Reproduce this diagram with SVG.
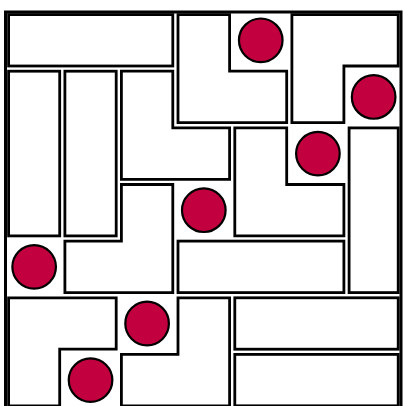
<svg xmlns="http://www.w3.org/2000/svg" width="403" height="406" viewBox="0 0 403 406">
<style>
.p{fill:#fff;stroke:#000;stroke-width:2.8;stroke-linejoin:miter}
.c{fill:#c2003f;stroke:#000;stroke-width:2.2}
.f{fill:none;stroke:#000;stroke-width:3}
</style>
<rect width="403" height="406" fill="#fff"/>
<rect class="f" x="5.5" y="12" width="395.5" height="400"/>
<g id="pieces">
<g id="p1"><rect class="p" x="8.6" y="14.6" width="164.2" height="51.4"/></g>
<g id="p2"><polygon class="p" points="178,14.6 229.6,14.6 229.6,71.2 286.7,71.2 286.7,122.7 178,122.7"/></g>
<g id="p3"><polygon class="p" points="291.9,14.6 398.2,14.6 398.2,66 343.9,66 343.9,122.7 291.9,122.7"/></g>
<g id="p4"><rect class="p" x="8.6" y="71.2" width="51.1" height="164.7"/></g>
<g id="p5"><rect class="p" x="64.9" y="71.2" width="51.3" height="164.7"/></g>
<g id="p6"><polygon class="p" points="121.4,71.2 172.8,71.2 172.8,127.9 229.6,127.9 229.6,179.3 121.4,179.3"/></g>
<g id="p7"><polygon class="p" points="234.8,127.9 286.7,127.9 286.7,184.5 343.9,184.5 343.9,235.9 234.8,235.9"/></g>
<g id="p8"><rect class="p" x="349.1" y="127.9" width="49.1" height="164.7"/></g>
<g id="p9"><polygon class="p" points="121.4,184.5 172.8,184.5 172.8,292.6 64.9,292.6 64.9,241.1 121.4,241.1"/></g>
<g id="p10"><rect class="p" x="178" y="241.1" width="165.9" height="51.5"/></g>
<g id="p11"><polygon class="p" points="8.6,297.8 116.2,297.8 116.2,349.2 59.7,349.2 59.7,405.8 8.6,405.8"/></g>
<g id="p12"><polygon class="p" points="178,297.8 229.6,297.8 229.6,405.8 121.4,405.8 121.4,354.4 178,354.4"/></g>
<g id="p13"><rect class="p" x="234.8" y="297.8" width="163.4" height="51.4"/></g>
<g id="p14"><rect class="p" x="234.8" y="354.4" width="163.4" height="51.4"/></g>
</g>
<g id="dots">
<circle class="c" cx="260.75" cy="40.3" r="21.8"/>
<circle class="c" cx="373.65" cy="96.95" r="21.8"/>
<circle class="c" cx="317.9" cy="153.6" r="21.8"/>
<circle class="c" cx="203.8" cy="210.2" r="21.8"/>
<circle class="c" cx="34.15" cy="266.85" r="21.8"/>
<circle class="c" cx="147.1" cy="323.5" r="21.8"/>
<circle class="c" cx="90.55" cy="380.1" r="21.8"/>
</g>
</svg>
